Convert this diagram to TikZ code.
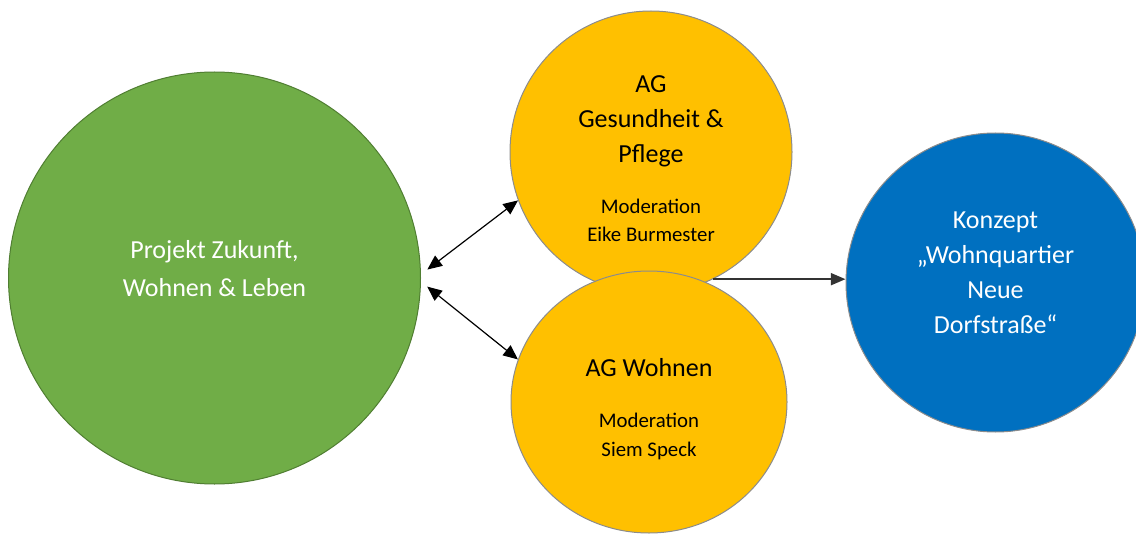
\documentclass[tikz,border=0pt]{standalone}
\usepackage{fontspec}
\setmainfont{Carlito}
\usetikzlibrary{arrows.meta,shapes.geometric}

\definecolor{projgruen}{HTML}{70AD47}
\definecolor{randgruen}{HTML}{507E32}
\definecolor{aggelb}{HTML}{FFC000}
\definecolor{konzeptblau}{HTML}{0070C0}
\definecolor{randgrau}{HTML}{8C8C8C}
\newcommand{\modschrift}{\fontsize{15.6}{21}\selectfont}

\begin{document}
\begin{tikzpicture}[x=0.75pt, y=-0.75pt,
        kreis/.style={circle, inner sep=0pt, line width=0.75pt, align=center,
            font=\fontsize{19.5}{26.25}\selectfont},
        projekt/.style={kreis, fill=projgruen, draw=randgruen, text=white, minimum size=309pt},
        ag/.style={kreis, fill=aggelb, draw=randgrau, text=black},
        konzept/.style={kreis, fill=konzeptblau, draw=randgrau, text=white, minimum size=224.25pt},
        pfeil2/.style={{Triangle[length=11pt,width=9.5pt]}-{Triangle[length=11pt,width=9.5pt]}, line width=0.9pt, black},
        pfeil/.style={-{Triangle[length=11pt,width=9pt]}, line width=1.5pt, black!80}]
    \useasboundingbox (0,0) rectangle (1136,535);

    \node[projekt] (proj) at (214.5,278)
        {Projekt Zukunft,\\[2.25pt]Wohnen \& Leben\rule[-15pt]{0pt}{15pt}};
    \node[ag, minimum size=211.5pt] (gesund) at (651,152)
        {\rule{0pt}{22pt}AG\\Gesundheit \&\\Pflege\\[12pt]\modschrift Moderation\\[-5.25pt]\modschrift Eike Burmester};
    \node[ag, ellipse, minimum width=207pt, minimum height=196.5pt] (wohnen) at (649,402)
        {\rule{0pt}{25pt}AG Wohnen\\[12pt]\modschrift Moderation\\[-4.5pt]\modschrift Siem Speck};
    \node[konzept] (dorf) at (995.5,282.5)
        {Konzept\\„Wohnquartier\\Neue\\Dorfstraße“\rule[-15pt]{0pt}{15pt}};

    \draw[pfeil2, shorten <=6pt] (proj.1) -- (gesund.200);
    \draw[pfeil2, shorten <=6pt] (proj.-1.3) -- (wohnen.162);
    \draw[pfeil] (gesund.-64) -- (gesund.-64 -| dorf.west);
\end{tikzpicture}
\end{document}
